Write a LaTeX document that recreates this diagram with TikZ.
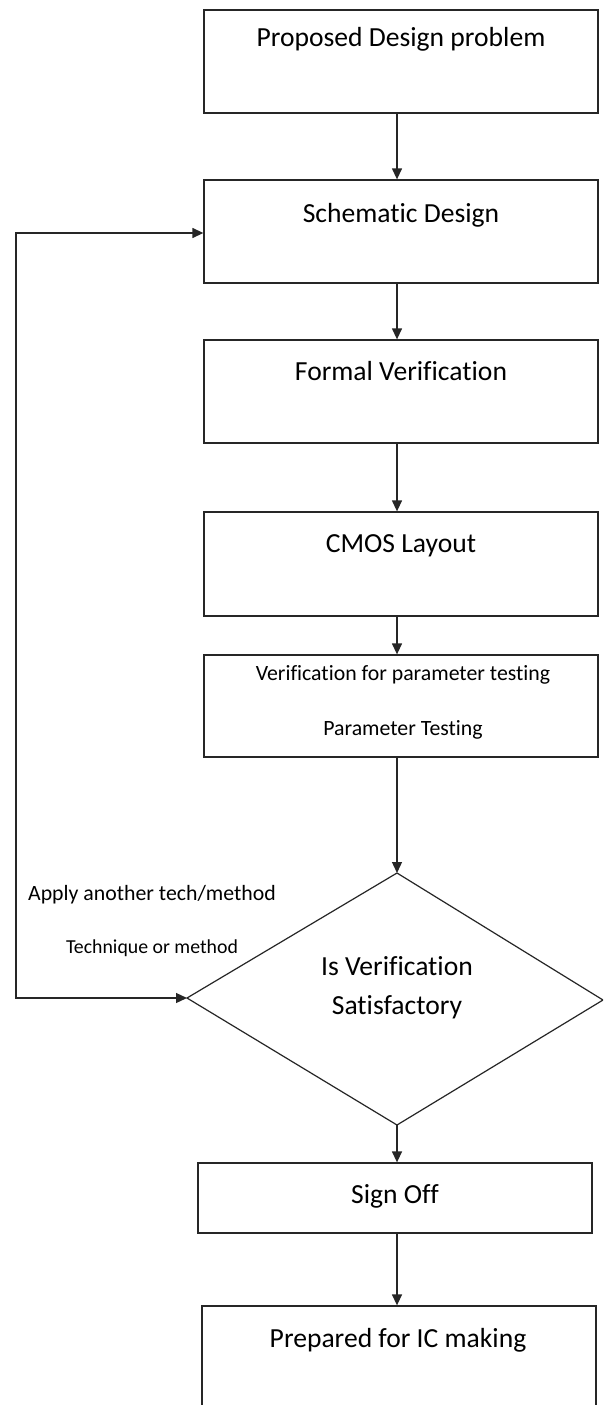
\documentclass[tikz,border=0pt]{standalone}
\usepackage{fontspec}
\setmainfont[Ligatures=NoCommon]{Carlito}
\usetikzlibrary{arrows.meta}
\begin{document}
\begin{tikzpicture}[x=1pt,y=-1pt,
  box/.style={draw=black!85, line width=1.3pt, rectangle, inner sep=0pt},
  big/.style={font=\fontsize{27.6}{32}\selectfont, inner sep=0pt, anchor=base},
  mid/.style={font=\fontsize{21.8}{26}\selectfont, inner sep=0pt, anchor=base},
  small/.style={font=\fontsize{19.8}{24}\selectfont, inner sep=0pt, anchor=base},
  flow/.style={line width=1.3pt, draw=black!85, -{Triangle[length=11pt,width=10pt]}},
  flowboth/.style={line width=1.3pt, draw=black!85, {Triangle[length=11pt,width=10pt]}-{Triangle[length=11pt,width=10pt]}}]
\useasboundingbox (0,0) rectangle (603,1405);
\clip (0,0) rectangle (603,1405);
\fill[white] (0,0) rectangle (603,1405);

% process boxes
\node[box, minimum width=394pt, minimum height=103pt] (b1) at (401,61.5) {};
\node[box, minimum width=394pt, minimum height=103pt] (b2) at (401,231.5) {};
\node[box, minimum width=394pt, minimum height=103pt] (b3) at (401,391.5) {};
\node[box, minimum width=394pt, minimum height=104pt] (b4) at (401,564) {};
\node[box, minimum width=394pt, minimum height=102pt] (b5) at (401,706) {};
\node[box, minimum width=394pt, minimum height=70pt] (b6) at (395,1198) {};
\node[box, minimum width=394pt, minimum height=130pt] (b7) at (399,1371) {};

% decision diamond
\coordinate (dt) at (397,873);
\coordinate (dl) at (187,998);
\coordinate (dr) at (603,1000);
\coordinate (db) at (397,1125);
\draw[line width=1.2pt, draw=black!85, line join=miter] (dt) -- (dr) -- (db) -- (dl) -- cycle;

% box texts
\node[big] (t1) at (401,47) {Proposed Design problem};
\node[big] (t2) at (401,222) {Schematic Design};
\node[big] (t3) at (401,380) {Formal Verification};
\node[big] (t4) at (401,552) {CMOS Layout};
\node[mid] (t5a) at (403,680) {Verification for parameter testing};
\node[mid] (t5b) at (403,735) {Parameter Testing};
\node[big] (t6a) at (397,975) {Is Verification};
\node[big] (t6b) at (397,1014) {Satisfactory};
\node[big] (t7) at (395,1203) {Sign Off};
\node[big] (t8) at (398,1347) {Prepared for IC making};

% feedback labels
\node[mid] (l1) at (152,900) {Apply another tech/method};
\node[small] (l2) at (152,953) {Technique or method};

% feedback corners
\coordinate (fb1) at (16,998);
\coordinate (fb2) at (16,233);

% connectors (all on the common vertical axis)
\draw[flow] (b1.south -| dt) -- (b2.north -| dt);
\draw[flow] (b2.south -| dt) -- (b3.north -| dt);
\draw[flow] (b3.south -| dt) -- (b4.north -| dt);
\draw[flow] (b4.south -| dt) -- (b5.north -| dt);
\draw[flow] (b5.south -| dt) -- (dt);
\draw[flow] (db) -- (b6.north -| db);
\draw[flow] (b6.south -| db) -- (b7.north -| db);
\draw[flowboth] (dl) -- (fb1) -- (fb2) -- (b2.west |- fb2);
\end{tikzpicture}
\end{document}
